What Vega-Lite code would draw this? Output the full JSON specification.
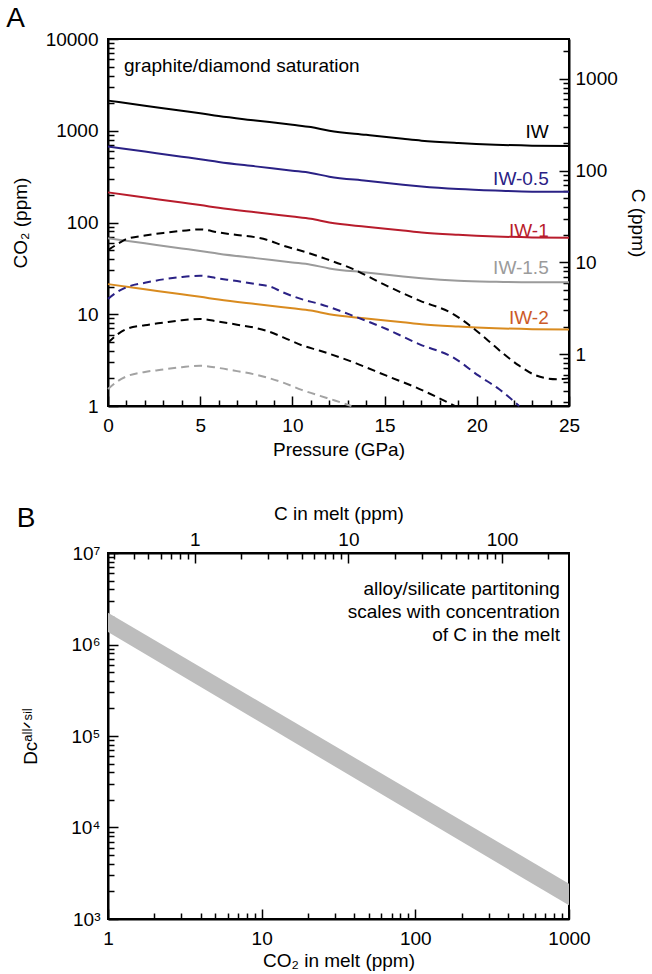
{
  "$schema": "https://vega.github.io/schema/vega-lite/v6.json",
  "padding": {"left": 5, "top": 4, "right": 0, "bottom": 0},
  "spacing": 43,
  "config": {
    "font": "Liberation Sans",
    "view": {"stroke": "black", "strokeWidth": 2},
    "axis": {"domainColor": "black", "domainWidth": 2, "tickColor": "black", "tickWidth": 1.5, "labelFontSize": 19, "titleFontSize": 19, "titleFontWeight": "normal", "labelColor": "black", "titleColor": "black", "grid": false, "labelFont": "Liberation Sans", "titleFont": "Liberation Sans", "labelOverlap": "greedy", "labelSeparation": 0},
    "title": {"fontSize": 28, "fontWeight": "normal", "anchor": "start", "font": "Liberation Sans"}
  },
  "datasets": {
    "solid": [
      {"P": 0, "co2": 2130, "s": "IW"}, {"P": 2, "co2": 1875, "s": "IW"}, {"P": 4, "co2": 1652, "s": "IW"}, {"P": 5, "co2": 1549, "s": "IW"}, {"P": 6, "co2": 1445, "s": "IW"}, {"P": 8, "co2": 1294, "s": "IW"}, {"P": 10, "co2": 1161, "s": "IW"}, {"P": 11, "co2": 1096, "s": "IW"}, {"P": 12, "co2": 1000, "s": "IW"}, {"P": 14, "co2": 902, "s": "IW"}, {"P": 16, "co2": 817, "s": "IW"}, {"P": 17, "co2": 780, "s": "IW"}, {"P": 19, "co2": 735, "s": "IW"}, {"P": 21, "co2": 705, "s": "IW"}, {"P": 23, "co2": 687, "s": "IW"}, {"P": 25, "co2": 682, "s": "IW"},
      {"P": 0, "co2": 674, "s": "IW-0.5"}, {"P": 2, "co2": 593, "s": "IW-0.5"}, {"P": 4, "co2": 522, "s": "IW-0.5"}, {"P": 5, "co2": 490, "s": "IW-0.5"}, {"P": 6, "co2": 457, "s": "IW-0.5"}, {"P": 8, "co2": 409, "s": "IW-0.5"}, {"P": 10, "co2": 367, "s": "IW-0.5"}, {"P": 11, "co2": 347, "s": "IW-0.5"}, {"P": 12, "co2": 316, "s": "IW-0.5"}, {"P": 14, "co2": 285, "s": "IW-0.5"}, {"P": 16, "co2": 258, "s": "IW-0.5"}, {"P": 17, "co2": 247, "s": "IW-0.5"}, {"P": 19, "co2": 232, "s": "IW-0.5"}, {"P": 21, "co2": 223, "s": "IW-0.5"}, {"P": 23, "co2": 217, "s": "IW-0.5"}, {"P": 25, "co2": 216, "s": "IW-0.5"},
      {"P": 0, "co2": 213, "s": "IW-1"}, {"P": 2, "co2": 187.5, "s": "IW-1"}, {"P": 4, "co2": 165, "s": "IW-1"}, {"P": 5, "co2": 155, "s": "IW-1"}, {"P": 6, "co2": 144.5, "s": "IW-1"}, {"P": 8, "co2": 129, "s": "IW-1"}, {"P": 10, "co2": 116, "s": "IW-1"}, {"P": 11, "co2": 110, "s": "IW-1"}, {"P": 12, "co2": 100, "s": "IW-1"}, {"P": 14, "co2": 90, "s": "IW-1"}, {"P": 16, "co2": 82, "s": "IW-1"}, {"P": 17, "co2": 78, "s": "IW-1"}, {"P": 19, "co2": 73.5, "s": "IW-1"}, {"P": 21, "co2": 70.5, "s": "IW-1"}, {"P": 23, "co2": 68.7, "s": "IW-1"}, {"P": 25, "co2": 68.2, "s": "IW-1"},
      {"P": 0, "co2": 67.4, "s": "IW-1.5"}, {"P": 2, "co2": 59.3, "s": "IW-1.5"}, {"P": 4, "co2": 52.2, "s": "IW-1.5"}, {"P": 5, "co2": 49.0, "s": "IW-1.5"}, {"P": 6, "co2": 45.7, "s": "IW-1.5"}, {"P": 8, "co2": 40.9, "s": "IW-1.5"}, {"P": 10, "co2": 36.7, "s": "IW-1.5"}, {"P": 11, "co2": 34.7, "s": "IW-1.5"}, {"P": 12, "co2": 31.6, "s": "IW-1.5"}, {"P": 14, "co2": 28.5, "s": "IW-1.5"}, {"P": 16, "co2": 25.8, "s": "IW-1.5"}, {"P": 17, "co2": 24.7, "s": "IW-1.5"}, {"P": 19, "co2": 23.2, "s": "IW-1.5"}, {"P": 21, "co2": 22.6, "s": "IW-1.5"}, {"P": 23, "co2": 22.3, "s": "IW-1.5"}, {"P": 25, "co2": 22.3, "s": "IW-1.5"},
      {"P": 0, "co2": 21.3, "s": "IW-2"}, {"P": 2, "co2": 18.75, "s": "IW-2"}, {"P": 4, "co2": 16.5, "s": "IW-2"}, {"P": 5, "co2": 15.5, "s": "IW-2"}, {"P": 6, "co2": 14.45, "s": "IW-2"}, {"P": 8, "co2": 12.9, "s": "IW-2"}, {"P": 10, "co2": 11.6, "s": "IW-2"}, {"P": 11, "co2": 11.0, "s": "IW-2"}, {"P": 12, "co2": 10.0, "s": "IW-2"}, {"P": 14, "co2": 9.0, "s": "IW-2"}, {"P": 16, "co2": 8.2, "s": "IW-2"}, {"P": 17, "co2": 7.8, "s": "IW-2"}, {"P": 19, "co2": 7.35, "s": "IW-2"}, {"P": 21, "co2": 7.05, "s": "IW-2"}, {"P": 23, "co2": 6.87, "s": "IW-2"}, {"P": 25, "co2": 6.82, "s": "IW-2"}
    ],
    "dashed": [
      {"P": 0, "co2": 50, "d": "d1"}, {"P": 0.5, "co2": 58, "d": "d1"}, {"P": 1, "co2": 66, "d": "d1"}, {"P": 2, "co2": 72, "d": "d1"}, {"P": 3, "co2": 77, "d": "d1"}, {"P": 4, "co2": 81, "d": "d1"}, {"P": 5, "co2": 84, "d": "d1"}, {"P": 6, "co2": 78, "d": "d1"}, {"P": 7, "co2": 73, "d": "d1"}, {"P": 8, "co2": 69, "d": "d1"}, {"P": 8.6, "co2": 65, "d": "d1"}, {"P": 9.5, "co2": 56, "d": "d1"}, {"P": 10.8, "co2": 47, "d": "d1"}, {"P": 11.6, "co2": 41.5, "d": "d1"}, {"P": 13.3, "co2": 31, "d": "d1"}, {"P": 15.1, "co2": 20.5, "d": "d1"}, {"P": 16.9, "co2": 14.1, "d": "d1"}, {"P": 18.7, "co2": 10.1, "d": "d1"}, {"P": 19.6, "co2": 7.6, "d": "d1"}, {"P": 20.5, "co2": 5.4, "d": "d1"}, {"P": 21.6, "co2": 3.5, "d": "d1"}, {"P": 22.3, "co2": 2.75, "d": "d1"}, {"P": 23.1, "co2": 2.2, "d": "d1"}, {"P": 23.8, "co2": 2.0, "d": "d1"}, {"P": 24.4, "co2": 1.96, "d": "d1"}, {"P": 25, "co2": 2.0, "d": "d1"},
      {"P": 0, "co2": 14.7, "d": "d2"}, {"P": 0.5, "co2": 17.5, "d": "d2"}, {"P": 1, "co2": 19.7, "d": "d2"}, {"P": 2, "co2": 22, "d": "d2"}, {"P": 3, "co2": 24, "d": "d2"}, {"P": 4, "co2": 25.5, "d": "d2"}, {"P": 5, "co2": 26.3, "d": "d2"}, {"P": 6, "co2": 24.5, "d": "d2"}, {"P": 7, "co2": 23, "d": "d2"}, {"P": 8, "co2": 21.3, "d": "d2"}, {"P": 8.8, "co2": 20, "d": "d2"}, {"P": 9.5, "co2": 17.3, "d": "d2"}, {"P": 10.5, "co2": 14.6, "d": "d2"}, {"P": 11.5, "co2": 12.9, "d": "d2"}, {"P": 13.3, "co2": 9.6, "d": "d2"}, {"P": 15.1, "co2": 6.9, "d": "d2"}, {"P": 16.9, "co2": 4.7, "d": "d2"}, {"P": 18.7, "co2": 3.4, "d": "d2"}, {"P": 20.1, "co2": 2.14, "d": "d2"}, {"P": 21.2, "co2": 1.53, "d": "d2"}, {"P": 22.3, "co2": 1.0, "d": "d2"},
      {"P": 0, "co2": 4.9, "d": "d3"}, {"P": 0.5, "co2": 6.0, "d": "d3"}, {"P": 1, "co2": 6.9, "d": "d3"}, {"P": 2, "co2": 7.6, "d": "d3"}, {"P": 3, "co2": 8.1, "d": "d3"}, {"P": 4, "co2": 8.6, "d": "d3"}, {"P": 5, "co2": 8.9, "d": "d3"}, {"P": 6, "co2": 8.3, "d": "d3"}, {"P": 7, "co2": 7.7, "d": "d3"}, {"P": 8, "co2": 7.1, "d": "d3"}, {"P": 8.6, "co2": 6.6, "d": "d3"}, {"P": 9.5, "co2": 5.6, "d": "d3"}, {"P": 10.5, "co2": 4.6, "d": "d3"}, {"P": 11.5, "co2": 4.0, "d": "d3"}, {"P": 13.3, "co2": 3.0, "d": "d3"}, {"P": 15.1, "co2": 2.14, "d": "d3"}, {"P": 16.9, "co2": 1.53, "d": "d3"}, {"P": 18.8, "co2": 1.0, "d": "d3"},
      {"P": 0, "co2": 1.53, "d": "d4"}, {"P": 0.5, "co2": 1.85, "d": "d4"}, {"P": 1, "co2": 2.1, "d": "d4"}, {"P": 2, "co2": 2.35, "d": "d4"}, {"P": 3, "co2": 2.5, "d": "d4"}, {"P": 4, "co2": 2.65, "d": "d4"}, {"P": 5, "co2": 2.75, "d": "d4"}, {"P": 6, "co2": 2.6, "d": "d4"}, {"P": 7, "co2": 2.4, "d": "d4"}, {"P": 8, "co2": 2.2, "d": "d4"}, {"P": 8.6, "co2": 2.05, "d": "d4"}, {"P": 9.5, "co2": 1.8, "d": "d4"}, {"P": 10.5, "co2": 1.5, "d": "d4"}, {"P": 11.5, "co2": 1.29, "d": "d4"}, {"P": 12.3, "co2": 1.15, "d": "d4"}, {"P": 13.2, "co2": 1.0, "d": "d4"}
    ],
    "labels": [
      {"P": 23.9, "co2": 969, "t": "IW"},
      {"P": 23.9, "co2": 298, "t": "IW-0.5"},
      {"P": 23.9, "co2": 81, "t": "IW-1"},
      {"P": 23.9, "co2": 31.7, "t": "IW-1.5"},
      {"P": 23.9, "co2": 9.0, "t": "IW-2"}
    ],
    "noteA": [{"P": 0.87, "co2": 5100, "t": "graphite/diamond saturation"}],
    "cAxis": [{"c": 1}],
    "band": [
      {"co2": 1, "lo": 1370000, "hi": 2230000},
      {"co2": 1000, "lo": 1410, "hi": 2430}
    ],
    "noteB": [{"co2": 873, "D": 5070000, "t": "alloy/silicate partitoning\nscales with concentration\nof C in the melt"}],
    "cMelt": [{"c": 1}]
  },
  "vconcat": [
    {
      "title": {"text": "A", "frame": "bounds", "anchor": "start", "dx": -5, "offset": -3},
      "width": 461,
      "height": 367,
      "layer": [
        {
          "layer": [
            {
              "data": {"name": "solid"},
              "mark": {"type": "line", "strokeWidth": 2, "interpolate": "monotone"},
              "encoding": {
                "x": {"field": "P", "type": "quantitative", "scale": {"domain": [0, 25], "nice": false, "zero": false},
                  "axis": {"title": "Pressure (GPa)", "values": [0,1,2,3,4,5,6,7,8,9,10,11,12,13,14,15,16,17,18,19,20,21,22,23,24,25],
                    "labelExpr": "datum.value % 5 == 0 ? format(datum.value, 'd') : ''",
                    "tickSize": {"condition": {"test": "datum.value % 5 == 0", "value": -10}, "value": -6},
                    "labelOverlap": "greedy", "labelSeparation": 0,
                    "labelPadding": 20, "titlePadding": 5, "labelFlush": false}},
                "y": {"field": "co2", "type": "quantitative", "scale": {"type": "log", "domain": [1, 10000], "nice": false},
                  "axis": {"title": "CO₂ (ppm)", "values": [1,2,3,4,5,6,7,8,9,10,20,30,40,50,60,70,80,90,100,200,300,400,500,600,700,800,900,1000,2000,3000,4000,5000,6000,7000,8000,9000,10000],
                    "labelExpr": "indexof([1,10,100,1000,10000], datum.value) >= 0 ? format(datum.value, 'd') : ''",
                    "tickSize": {"condition": {"test": "indexof([1,10,100,1000,10000], datum.value) >= 0", "value": -10}, "value": -6},
                    "labelPadding": 20, "titlePadding": 15}},
                "color": {"field": "s", "type": "nominal", "legend": null,
                  "scale": {"domain": ["IW", "IW-0.5", "IW-1", "IW-1.5", "IW-2"], "range": ["#000000", "#2a2185", "#b81c2c", "#9b9b9b", "#d98b1f"]}}
              }
            },
            {
              "data": {"name": "dashed"},
              "mark": {"type": "line", "strokeWidth": 2, "strokeDash": [8, 5], "interpolate": "monotone"},
              "encoding": {
                "x": {"field": "P", "type": "quantitative", "scale": {"domain": [0, 25], "nice": false, "zero": false},
                  "axis": {"title": "Pressure (GPa)", "values": [0,1,2,3,4,5,6,7,8,9,10,11,12,13,14,15,16,17,18,19,20,21,22,23,24,25],
                    "labelExpr": "datum.value % 5 == 0 ? format(datum.value, 'd') : ''",
                    "tickSize": {"condition": {"test": "datum.value % 5 == 0", "value": -10}, "value": -6},
                    "labelOverlap": "greedy", "labelSeparation": 0,
                    "labelPadding": 20, "titlePadding": 5, "labelFlush": false}},
                "y": {"field": "co2", "type": "quantitative", "scale": {"type": "log", "domain": [1, 10000], "nice": false}},
                "color": {"field": "d", "type": "nominal", "legend": null,
                  "scale": {"domain": ["d1", "d2", "d3", "d4"], "range": ["#000000", "#2a2185", "#000000", "#a3a3a3"]}}
              }
            },
            {
              "data": {"name": "labels"},
              "mark": {"type": "text", "align": "right", "baseline": "middle", "fontSize": 19},
              "encoding": {
                "x": {"field": "P", "type": "quantitative", "scale": {"domain": [0, 25], "nice": false, "zero": false},
                  "axis": {"title": "Pressure (GPa)", "values": [0,1,2,3,4,5,6,7,8,9,10,11,12,13,14,15,16,17,18,19,20,21,22,23,24,25],
                    "labelExpr": "datum.value % 5 == 0 ? format(datum.value, 'd') : ''",
                    "tickSize": {"condition": {"test": "datum.value % 5 == 0", "value": -10}, "value": -6},
                    "labelOverlap": "greedy", "labelSeparation": 0,
                    "labelPadding": 20, "titlePadding": 5, "labelFlush": false}},
                "y": {"field": "co2", "type": "quantitative", "scale": {"type": "log", "domain": [1, 10000], "nice": false}},
                "text": {"field": "t"},
                "color": {"field": "t", "type": "nominal", "legend": null,
                  "scale": {"domain": ["IW", "IW-0.5", "IW-1", "IW-1.5", "IW-2"], "range": ["#000000", "#2a2185", "#b81c2c", "#9b9b9b", "#cc5a28"]}}
              }
            },
            {
              "data": {"name": "noteA"},
              "mark": {"type": "text", "align": "left", "baseline": "middle", "fontSize": 19, "color": "black"},
              "encoding": {
                "x": {"field": "P", "type": "quantitative", "scale": {"domain": [0, 25], "nice": false, "zero": false},
                  "axis": {"title": "Pressure (GPa)", "values": [0,1,2,3,4,5,6,7,8,9,10,11,12,13,14,15,16,17,18,19,20,21,22,23,24,25],
                    "labelExpr": "datum.value % 5 == 0 ? format(datum.value, 'd') : ''",
                    "tickSize": {"condition": {"test": "datum.value % 5 == 0", "value": -10}, "value": -6},
                    "labelOverlap": "greedy", "labelSeparation": 0,
                    "labelPadding": 20, "titlePadding": 5, "labelFlush": false}},
                "y": {"field": "co2", "type": "quantitative", "scale": {"type": "log", "domain": [1, 10000], "nice": false}},
                "text": {"field": "t"}
              }
            }
          ],
          "resolve": {"scale": {"color": "independent"}}
        },
        {
          "data": {"name": "cAxis"},
          "mark": {"type": "point", "opacity": 0},
          "encoding": {
            "y": {"field": "c", "type": "quantitative", "scale": {"type": "log", "domain": [0.272727, 2727.27], "nice": false},
              "axis": {"orient": "right", "title": "C (ppm)", "values": [0.3,0.4,0.5,0.6,0.7,0.8,0.9,1,2,3,4,5,6,7,8,9,10,20,30,40,50,60,70,80,90,100,200,300,400,500,600,700,800,900,1000,2000],
                "labelExpr": "indexof([1,10,100,1000], datum.value) >= 0 ? format(datum.value, 'd') : ''",
                "tickSize": {"condition": {"test": "indexof([1,10,100,1000], datum.value) >= 0", "value": -10}, "value": -6},
                "labelPadding": 16, "titlePadding": 10}}
          }
        }
      ],
      "resolve": {"scale": {"y": "independent"}, "axis": {"y": "independent"}}
    },
    {
      "title": {"text": "B", "frame": "bounds", "anchor": "start", "dx": -5, "offset": -29},
      "width": 461,
      "height": 366,
      "layer": [
        {
          "layer": [
            {
              "data": {"name": "band"},
              "mark": {"type": "area", "color": "#bdbdbd", "opacity": 1},
              "encoding": {
                "x": {"field": "co2", "type": "quantitative", "scale": {"type": "log", "domain": [1, 1000], "nice": false},
                  "axis": {"title": "CO₂ in melt (ppm)", "values": [1,2,3,4,5,6,7,8,9,10,20,30,40,50,60,70,80,90,100,200,300,400,500,600,700,800,900,1000],
                    "labelExpr": "indexof([1,10,100,1000], datum.value) >= 0 ? format(datum.value, 'd') : ''",
                    "tickSize": {"condition": {"test": "indexof([1,10,100,1000], datum.value) >= 0", "value": -10}, "value": -6},
                    "labelPadding": 20, "titlePadding": 3, "labelFlush": false}},
                "y": {"field": "lo", "type": "quantitative", "scale": {"type": "log", "domain": [1000, 10000000], "nice": false},
                  "axis": {"title": "Dᴄᵃˡˡᐟˢⁱˡ", "values": [1000,2000,3000,4000,5000,6000,7000,8000,9000,10000,20000,30000,40000,50000,60000,70000,80000,90000,100000,200000,300000,400000,500000,600000,700000,800000,900000,1000000,2000000,3000000,4000000,5000000,6000000,7000000,8000000,9000000,10000000],
                    "labelExpr": "datum.value == 1000 ? '10³' : datum.value == 10000 ? '10⁴' : datum.value == 100000 ? '10⁵' : datum.value == 1000000 ? '10⁶' : datum.value == 10000000 ? '10⁷' : ''",
                    "tickSize": {"condition": {"test": "indexof([1000,10000,100000,1000000,10000000], datum.value) >= 0", "value": -10}, "value": -6},
                    "labelPadding": 18, "titlePadding": 30}},
                "y2": {"field": "hi"}
              }
            },
            {
              "data": {"name": "noteB"},
              "mark": {"type": "text", "align": "right", "baseline": "top", "fontSize": 19, "lineBreak": "\n", "lineHeight": 23, "color": "black"},
              "encoding": {
                "x": {"field": "co2", "type": "quantitative", "scale": {"type": "log", "domain": [1, 1000], "nice": false}},
                "y": {"field": "D", "type": "quantitative", "scale": {"type": "log", "domain": [1000, 10000000], "nice": false}},
                "text": {"field": "t"}
              }
            }
          ]
        },
        {
          "data": {"name": "cMelt"},
          "mark": {"type": "point", "opacity": 0},
          "encoding": {
            "x": {"field": "c", "type": "quantitative", "scale": {"type": "log", "domain": [0.272727, 272.727], "nice": false},
              "axis": {"orient": "top", "title": "C in melt (ppm)", "values": [0.3,0.4,0.5,0.6,0.7,0.8,0.9,1,2,3,4,5,6,7,8,9,10,20,30,40,50,60,70,80,90,100,200],
                "labelExpr": "indexof([1,10,100], datum.value) >= 0 ? format(datum.value, 'd') : ''",
                "tickSize": {"condition": {"test": "indexof([1,10,100], datum.value) >= 0", "value": -10}, "value": -6},
                "labelPadding": 14, "titlePadding": 7, "labelFlush": false}}
          }
        }
      ],
      "resolve": {"scale": {"x": "independent"}, "axis": {"x": "independent"}}
    }
  ]
}
